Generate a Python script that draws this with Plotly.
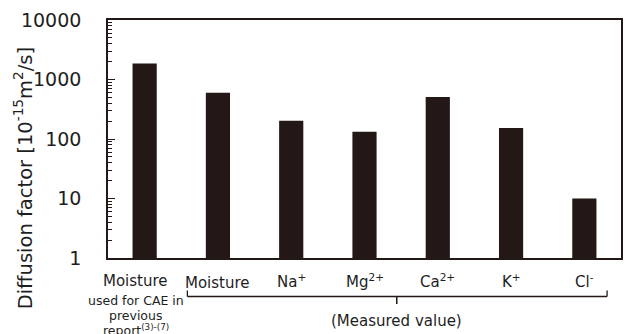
import plotly.graph_objects as go

# Diffusion factors in units of 1e-15 m^2/s
categories = ["Moisture (CAE)", "Moisture", "Na+", "Mg2+", "Ca2+", "K+", "Cl-"]
values = [1850, 600, 203, 133, 510, 153, 10]
tick_labels = ["Moisture", "Moisture", "Na<sup>+</sup>", "Mg<sup>2+</sup>",
               "Ca<sup>2+</sup>", "K<sup>+</sup>", "Cl<sup>-</sup>"]
y_ticks = [1, 10, 100, 1000, 10000]
first_label_notes = ["used for CAE in", "previous", "report<sup>(3)-(7)</sup>"]
y_title = "Diffusion factor [10<sup>-15</sup>m<sup>2</sup>/s]"

INK = "#231815"
TXT = "#1e1e1e"
FONT = "DejaVu Sans"

W, H = 629, 334
L, R, T, B = 108, 6, 20, 76
PH = H - T - B
PW = W - L - R


def py(pixel_y):
    """Convert a pixel row to paper y."""
    return (H - B - pixel_y) / PH


def px(pixel_x):
    """Convert a pixel column to paper x."""
    return (pixel_x - L) / PW


fig = go.Figure(go.Bar(
    x=list(range(len(categories))),
    y=values,
    marker=dict(color=INK, line=dict(width=0)),
    width=0.33,
    hovertext=categories,
))

fig.update_layout(
    width=W, height=H,
    margin=dict(l=L, r=R, t=T, b=B, pad=0),
    paper_bgcolor="white", plot_bgcolor="white",
    showlegend=False,
    font=dict(family=FONT, color=TXT),
)

fig.update_xaxes(
    range=[-0.5, len(categories) - 0.5],
    showticklabels=False, ticks="",
    showline=True, linecolor=INK, linewidth=1.6, mirror=True,
    showgrid=False, zeroline=False,
)

fig.update_yaxes(
    type="log", range=[0, 4],
    tickvals=y_ticks, ticktext=[str(v) for v in y_ticks],
    ticks="inside", ticklen=7, tickwidth=1.2, tickcolor=INK,
    minor=dict(ticks="inside", ticklen=4, tickwidth=1.0, tickcolor=INK,
               dtick="D1", showgrid=False),
    tickfont=dict(size=19, family=FONT, color=TXT),
    ticklabelstandoff=21,
    showline=True, linecolor=INK, linewidth=1.6, mirror=True,
    showgrid=False, zeroline=False,
)

ann = [dict(x=px(23), y=py(178), xref="paper", yref="paper",
            text=y_title, textangle=-90, showarrow=False,
            font=dict(size=19.5, family=FONT, color=TXT),
            xanchor="center", yanchor="middle")]
label_x = [-0.12] + list(range(1, len(tick_labels)))
for i, lab in enumerate(tick_labels):
    ann.append(dict(x=label_x[i], y=py(283 if i == 1 else 281),
                    xref="x", yref="paper",
                    text=lab, showarrow=False,
                    font=dict(size=15, family=FONT, color=TXT),
                    xanchor="center", yanchor="middle"))
for k, note in enumerate(first_label_notes):
    ann.append(dict(x=-0.12, y=py(300 + 15 * k), xref="x", yref="paper",
                    text=note, showarrow=False,
                    font=dict(size=12.5, family=FONT, color=TXT),
                    xanchor="center", yanchor="middle"))
ann.append(dict(x=3.44, y=py(321), xref="x", yref="paper",
                text="(Measured value)", showarrow=False,
                font=dict(size=15, family=FONT, color=TXT),
                xanchor="center", yanchor="middle"))
fig.update_layout(annotations=ann)

# Bracket grouping the measured values
x0, x1, xm = 0.583, 6.31, 3.44
yb, yt, yd = py(296.5), py(290.5), py(304)
for sx0, sx1, sy0, sy1, lw in [(x0, x1, yb, yb, 1.3), (x0, x0, yb, yt, 1.3),
                               (x1, x1, yb, yt, 1.3), (xm, xm, yb, yd, 1.5)]:
    fig.add_shape(type="line", xref="x", yref="paper",
                  x0=sx0, x1=sx1, y0=sy0, y1=sy1,
                  line=dict(color=INK, width=lw))

fig.write_html("out.html")
